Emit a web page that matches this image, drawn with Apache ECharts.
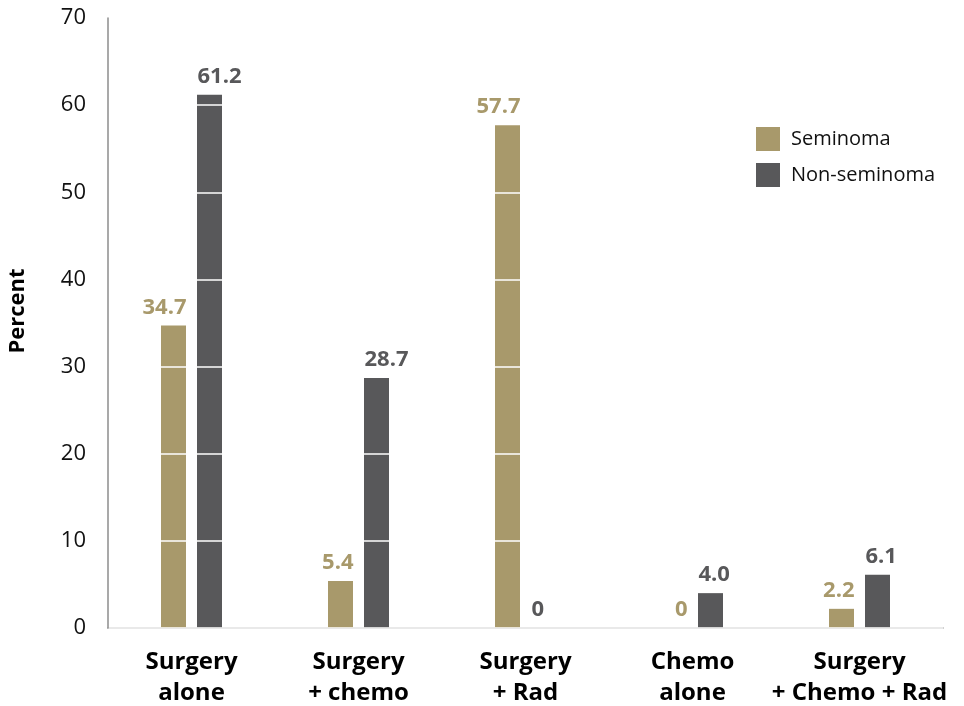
<!DOCTYPE html>
<html>
<head>
<meta charset="utf-8">
<script src="https://cdn.jsdelivr.net/npm/echarts@6/dist/echarts.min.js"></script>
<style>html,body{margin:0;padding:0;background:#fff}#c{width:964px;height:706px}</style>
</head>
<body>
<div id="c"></div>
<script>
var categories = ['Surgery\nalone', 'Surgery\n+ chemo', 'Surgery\n+ Rad', 'Chemo\nalone', 'Surgery\n+ Chemo + Rad'];
var seminoma = [34.7, 5.4, 57.7, 0, 2.2];
var nonSeminoma = [61.2, 28.7, 0, 4.0, 6.1];
var seriesNames = ['Seminoma', 'Non-seminoma'];
var colors = ['#a8996b', '#58585a'];
var FONT = '"Open Sans", "Noto Sans", sans-serif';

function fmt(p) { return p.value === 0 ? '0' : p.value.toFixed(1); }
function labelCfg(c, align, dx) {
  return { show: true, position: 'top', distance: 7, align: align, offset: [dx, 0], formatter: fmt,
           fontFamily: FONT, fontSize: 22, fontWeight: 'bold', color: c };
}

var chart = echarts.init(document.getElementById('c'));
chart.setOption({
  animation: false,
  backgroundColor: '#fff',
  grid: { left: 108, right: 21, top: 18, bottom: 78, containLabel: false, outerBoundsMode: 'none' },
  legend: {
    orient: 'vertical', left: 751, top: 122, itemWidth: 24, itemHeight: 24, itemGap: 12,
    icon: 'rect',
    textStyle: { fontFamily: FONT, fontSize: 20, color: '#111', padding: [0, 0, 0, 6] },
    data: seriesNames
  },
  xAxis: [{
    type: 'category', data: categories,
    axisLine: { lineStyle: { color: '#8c8c8c', width: 1.5 } },
    axisTick: { show: false },
    axisLabel: { interval: 0, fontFamily: FONT, fontSize: 24, fontWeight: 'bold', color: '#000', lineHeight: 31, margin: 19 }
  }, {
    type: 'category', data: categories, show: false, position: 'bottom'
  }],
  yAxis: {
    type: 'value', min: 0, max: 70, interval: 10, z: 5,
    name: 'Percent', nameLocation: 'middle', nameGap: 54, nameRotate: 90,
    nameTextStyle: { fontFamily: FONT, fontSize: 22, fontWeight: 'bold', color: '#000', padding: [0, 0, 25, 24] },
    axisLine: { show: true, lineStyle: { color: '#8c8c8c', width: 1.5 } },
    axisTick: { show: false },
    splitLine: { show: true, lineStyle: { color: '#ffffff', width: 1.5 } },
    axisLabel: { fontFamily: FONT, fontSize: 22, color: '#111', margin: 22 }
  },
  series: [
    { name: seriesNames[0], type: 'bar', xAxisIndex: 0, data: seminoma, barWidth: 25, barGap: '44%', itemStyle: { color: colors[0] } },
    { name: seriesNames[1], type: 'bar', xAxisIndex: 0, data: nonSeminoma, barWidth: 25, itemStyle: { color: colors[1] } },
    { name: seriesNames[0] + ' label', type: 'bar', xAxisIndex: 1, data: seminoma, barWidth: 25, barGap: '44%', z: 10, silent: true,
      itemStyle: { color: 'rgba(0,0,0,0)' }, label: labelCfg(colors[0], 'right', 13) },
    { name: seriesNames[1] + ' label', type: 'bar', xAxisIndex: 1, data: nonSeminoma, barWidth: 25, z: 10, silent: true,
      itemStyle: { color: 'rgba(0,0,0,0)' }, label: labelCfg(colors[1], 'left', -12) }
  ]
});
</script>
</body>
</html>
